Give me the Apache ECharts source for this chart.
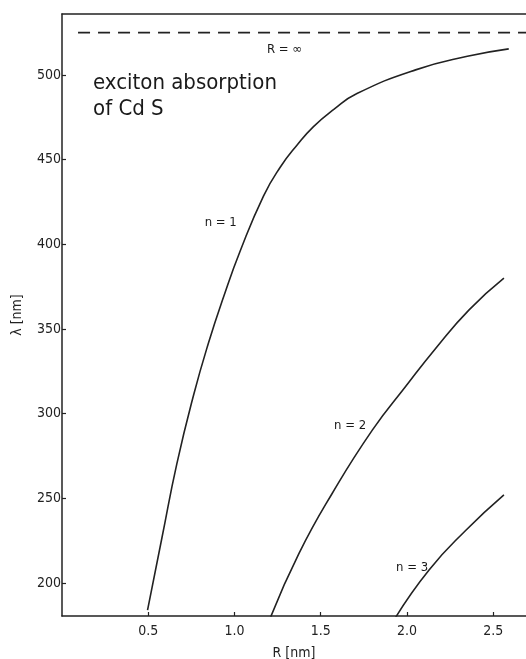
<!DOCTYPE html>
<html>
<head>
<meta charset="utf-8">
<script src="https://cdn.jsdelivr.net/npm/echarts@6/dist/echarts.min.js"></script>
<style>
  html, body { margin: 0; padding: 0; background: #fff; }
  #chart { width: 526px; height: 659px; }
</style>
</head>
<body>
<div id="chart"></div>
<script>
// exciton absorption of CdS, lambda vs R
const xTicks = [0.5, 1.0, 1.5, 2.0, 2.5]
const yTicks = [200, 250, 300, 350, 400, 450, 500]

const n1R = [0.496, 0.58, 0.666, 0.763, 0.85, 0.937, 1.033, 1.168, 1.265, 1.362, 1.458, 1.574, 1.71, 2.05, 2.35, 2.59]
const n1L = [184, 227, 270.5, 311, 342, 369, 396, 428.5, 445.5, 458.5, 469.5, 479.5, 489, 503, 511, 515.4]

const n2R = [1.21, 1.374, 1.567, 1.8, 1.992, 2.166, 2.36, 2.562]
const n2L = [180, 217.5, 253, 290.4, 316, 338.5, 361.3, 380]

const n3R = [1.934, 2.128, 2.34, 2.562]
const n3L = [179.7, 207.7, 231, 252]

const infR = [0.093, 2.7]
const infL = [525, 525]

const labelText = ['n = 1', 'n = 2', 'n = 3', 'R = \u221e']
const labelR = [0.92, 1.67, 2.03, 1.29]
const labelL = [413, 293, 209, 515]

const font = '"DejaVu Sans Condensed", "DejaVu Sans", sans-serif'
const ink = '#222'

const zip = (a, b) => a.map((v, i) => [v, b[i]])

const chart = echarts.init(document.getElementById('chart'), null, { renderer: 'canvas' })

const curve = (name, data) => ({
  name,
  type: 'line',
  smooth: 0.5,
  symbol: 'none',
  data,
  lineStyle: { color: ink, width: 1.6 },
  z: 3,
})

const textLabel = (size, position) => ({
  show: true,
  position,
  distance: 0,
  formatter: p => p.name,
  fontFamily: font,
  fontSize: size,
  color: '#1a1a1a',
})

chart.setOption({
  animation: false,
  backgroundColor: '#fff',
  grid: { left: 62, right: 0, top: 14, bottom: 43, containLabel: false, outerBoundsMode: 'none' },
  xAxis: [
    {
      type: 'value',
      min: 0,
      max: 2.69,
      name: 'R [nm]',
      nameLocation: 'middle',
      nameGap: 30,
      nameTextStyle: { fontFamily: font, fontSize: 14, color: ink },
      splitLine: { show: false },
      axisLine: { show: true, lineStyle: { color: ink, width: 1.5 } },
      axisTick: { show: true, inside: true, length: 4, customValues: xTicks, lineStyle: { color: ink, width: 1.2 } },
      axisLabel: {
        customValues: xTicks,
        formatter: v => v.toFixed(1),
        fontFamily: font, fontSize: 14, color: ink, margin: 8,
      },
    },
    {
      type: 'value',
      position: 'top',
      min: 0,
      max: 2.69,
      splitLine: { show: false },
      axisLine: { show: true, lineStyle: { color: ink, width: 1.5 } },
      axisTick: { show: false },
      axisLabel: { show: false },
    },
  ],
  yAxis: {
    type: 'value',
    min: 180.5,
    max: 536,
    name: '\u03bb [nm]',
    nameLocation: 'middle',
    nameGap: 38,
    nameTextStyle: { fontFamily: font, fontSize: 14, color: ink },
    splitLine: { show: false },
    axisLine: { show: true, lineStyle: { color: ink, width: 1.5 } },
    axisTick: { show: true, inside: true, length: 4, customValues: yTicks, lineStyle: { color: ink, width: 1.2 } },
    axisLabel: {
      customValues: yTicks,
      fontFamily: font, fontSize: 14, color: ink, margin: 1,
    },
  },
  series: [
    curve('n=1', zip(n1R, n1L)),
    curve('n=2', zip(n2R, n2L)),
    curve('n=3', zip(n3R, n3L)),
    {
      name: 'R=inf',
      type: 'line',
      symbol: 'none',
      data: zip(infR, infL),
      lineStyle: { color: ink, width: 1.6, type: [12, 8] },
    },
    {
      name: 'labels',
      type: 'scatter',
      symbolSize: 0,
      itemStyle: { opacity: 1 },
      data: labelText.map((t, i) => ({ name: t, value: [labelR[i], labelL[i]] })),
      label: textLabel(13, 'inside'),
      silent: true,
    },
    {
      name: 'title',
      type: 'scatter',
      symbolSize: 0,
      itemStyle: { opacity: 1 },
      data: [
        { name: 'exciton absorption', value: [0.18, 495] },
        { name: 'of Cd S', value: [0.18, 479.5] },
      ],
      label: textLabel(22, 'right'),
      silent: true,
    },
  ],
})
</script>
</body>
</html>
